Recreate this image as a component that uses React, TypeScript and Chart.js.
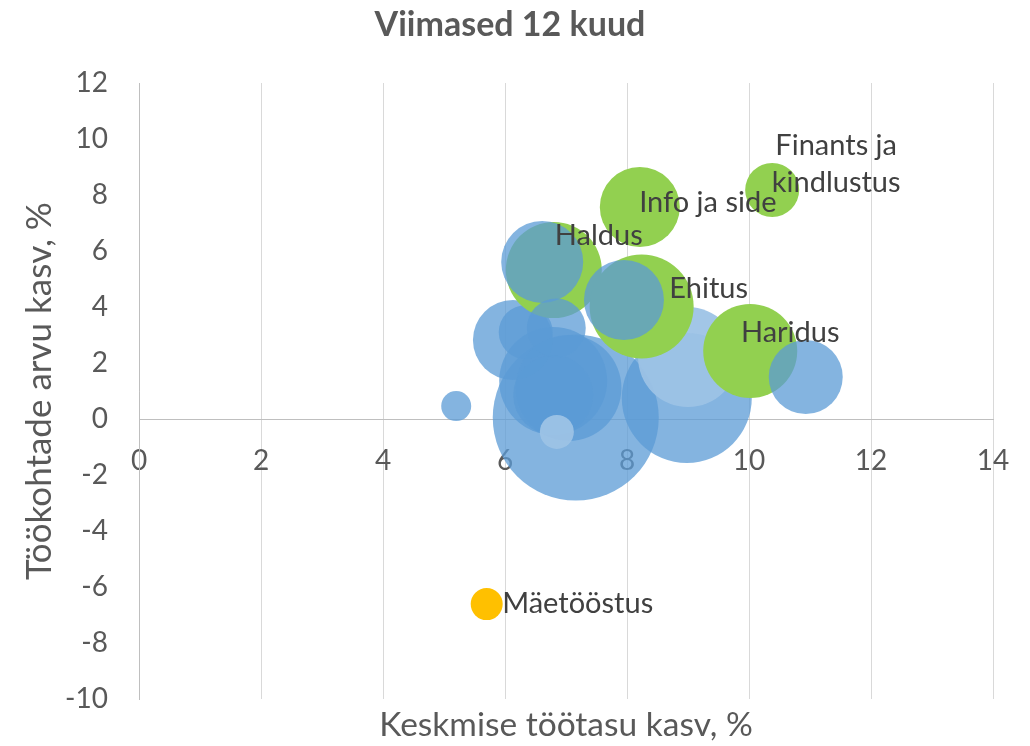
import React, { useEffect, useRef } from 'react';
import { Chart, registerables } from 'chart.js';

Chart.register(...registerables);

// ---- Data ----
const TITLE = 'Viimased 12 kuud';
const X_TITLE = 'Keskmise töötasu kasv, %';
const Y_TITLE = 'Töökohtade arvu kasv, %';
const X_MIN = 0;
const X_MAX = 14;
const X_STEP = 2;
const Y_MIN = -10;
const Y_MAX = 12;
const Y_STEP = 2;

// Labelled green sectors
const GREEN_NAMES = ['Haldus', 'Info ja side', 'Finants ja kindlustus', 'Ehitus', 'Haridus'];
const GREEN_WAGE = [6.8, 8.21, 10.38, 8.24, 10.02];
const GREEN_JOBS = [5.32, 7.57, 8.18, 4.02, 2.43];
const GREEN_SIZE = [48, 40, 27, 52, 47];

// Labelled yellow sector
const YELLOW_NAMES = ['Mäetööstus'];
const YELLOW_WAGE = [5.7];
const YELLOW_JOBS = [-6.61];
const YELLOW_SIZE = [16];

// Other sectors (blue, lower layer)
const BLUE_WAGE = [7.16, 8.98, 5.2, 6.13, 6.34, 6.79, 7.04, 6.79];
const BLUE_JOBS = [0.05, 0.75, 0.46, 2.82, 3.1, 1.36, 1.11, 0.86];
const BLUE_SIZE = [83, 65, 15, 40, 27, 54, 53, 40];

// Other sectors (light blue)
const LIGHT_WAGE = [9.0, 6.85];
const LIGHT_JOBS = [2.21, -0.46];
const LIGHT_SIZE = [50, 17];

// Other sectors (blue, upper layer)
const BLUE_TOP_WAGE = [6.61, 7.95, 10.93, 6.84];
const BLUE_TOP_JOBS = [5.61, 4.25, 1.5, 3.25];
const BLUE_TOP_SIZE = [41, 40, 37, 29.5];

// ---- Styles ----
const FONT = 'Lato';
const TEXT = '#595959';
const LABEL_TEXT = '#404040';
const BLUE = 'rgba(91,155,213,0.75)';
const LIGHT = 'rgba(157,195,230,0.95)';
const GREEN = '#92D050';
const YELLOW = '#FFC000';

// label offsets (px, relative to bubble centre): [dx of text centre, dy of first line centre]
const GREEN_LABEL_OFFSETS = [
  [45, -34],
  [68, -4],
  [64, -44],
  [67, -18],
  [40, -18],
];
const YELLOW_LABEL_OFFSETS = [[91, 0]];
const LABEL_LINE_HEIGHT = 37;

const toPoints = (xs: number[], ys: number[], rs: number[]) =>
  xs.map((x, i) => ({ x, y: ys[i], r: rs[i] }));

const splitLabel = (name: string) =>
  name === 'Finants ja kindlustus' ? ['Finants ja', 'kindlustus'] : [name];

const labelPlugin = {
  id: 'bubbleLabels',
  afterDatasetsDraw(chart: any) {
    const ctx = chart.ctx;
    ctx.save();
    ctx.font = `29px ${FONT}`;
    ctx.fillStyle = LABEL_TEXT;
    ctx.textAlign = 'center';
    ctx.textBaseline = 'middle';
    const groups = [
      { index: 2, names: GREEN_NAMES, offsets: GREEN_LABEL_OFFSETS },
      { index: 3, names: YELLOW_NAMES, offsets: YELLOW_LABEL_OFFSETS },
    ];
    groups.forEach((g) => {
      const meta = chart.getDatasetMeta(g.index);
      meta.data.forEach((el: any, i: number) => {
        const lines = splitLabel(g.names[i]);
        const [dx, dy] = g.offsets[i];
        lines.forEach((line, j) => {
          ctx.fillText(line, el.x + dx, el.y + dy + j * LABEL_LINE_HEIGHT);
        });
      });
    });
    ctx.restore();
  },
};

const titlePlugin = {
  id: 'chartTitle',
  afterDraw(chart: any) {
    const ctx = chart.ctx;
    ctx.save();
    ctx.font = `bold 34px ${FONT}`;
    ctx.fillStyle = TEXT;
    ctx.textAlign = 'center';
    ctx.textBaseline = 'middle';
    ctx.fillText(TITLE, 510, 25);
    ctx.restore();
  },
};

const zeroPadding = (s: any) => {
  s.paddingLeft = 0;
  s.paddingRight = 0;
  s.paddingTop = 0;
  s.paddingBottom = 0;
};

export default function App() {
  const ref = useRef<HTMLCanvasElement | null>(null);

  useEffect(() => {
    if (!ref.current) return;
    const chart = new Chart(ref.current, {
      type: 'bubble',
      data: {
        datasets: [
          { label: 'Muud', data: toPoints(BLUE_WAGE, BLUE_JOBS, BLUE_SIZE), backgroundColor: BLUE, borderWidth: 0, order: 5 },
          { label: 'Muud 2', data: toPoints(LIGHT_WAGE, LIGHT_JOBS, LIGHT_SIZE), backgroundColor: LIGHT, borderWidth: 0, order: 4 },
          { label: 'Kasv', data: toPoints(GREEN_WAGE, GREEN_JOBS, GREEN_SIZE), backgroundColor: GREEN, borderWidth: 0, order: 3 },
          { label: 'Langus', data: toPoints(YELLOW_WAGE, YELLOW_JOBS, YELLOW_SIZE), backgroundColor: YELLOW, borderWidth: 0, order: 2 },
          { label: 'Muud 3', data: toPoints(BLUE_TOP_WAGE, BLUE_TOP_JOBS, BLUE_TOP_SIZE), backgroundColor: BLUE, borderWidth: 0, order: 1 },
        ],
      },
      options: {
        responsive: false,
        animation: false,
        events: [],
        layout: { autoPadding: false, padding: { left: 0, right: 37, top: 83, bottom: 0 } },
        plugins: {
          legend: { display: false },
          tooltip: { enabled: false },
          title: { display: false },
        },
        scales: {
          x: {
            type: 'linear',
            position: { y: 0 } as any,
            min: X_MIN,
            max: X_MAX,
            ticks: {
              stepSize: X_STEP,
              color: TEXT,
              font: { family: FONT, size: 28 },
              padding: 0,
              maxRotation: 0,
            },
            grid: { color: '#D9D9D9', lineWidth: 1, drawTicks: true, tickLength: 25, tickColor: 'rgba(0,0,0,0)' },
            border: { color: '#BFBFBF', width: 1 },
            afterFit: (s: any) => { zeroPadding(s); },
          },
          xTitle: {
            type: 'linear',
            axis: 'x',
            position: 'bottom',
            min: X_MIN,
            max: X_MAX,
            ticks: { display: false },
            grid: { display: false, drawTicks: false },
            border: { display: false },
            title: {
              display: true,
              text: X_TITLE,
              color: TEXT,
              font: { family: FONT, size: 33.5 },
              padding: { top: 0, bottom: 1 },
            },
            afterFit: (s: any) => { zeroPadding(s); s.height = 47; },
          },
          y: {
            type: 'linear',
            position: 'left',
            min: Y_MIN,
            max: Y_MAX,
            ticks: {
              stepSize: Y_STEP,
              color: TEXT,
              font: { family: FONT, size: 28 },
              padding: 31,
            },
            grid: { display: false, drawTicks: false },
            border: { color: '#BFBFBF', width: 1 },
            title: {
              display: true,
              text: Y_TITLE,
              color: TEXT,
              font: { family: FONT, size: 35 },
              padding: { top: 19, bottom: 0 },
            },
            afterFit: (s: any) => { zeroPadding(s); s.width = 139; },
          },
        } as any,
      },
      plugins: [labelPlugin, titlePlugin],
    } as any);
    return () => chart.destroy();
  }, []);

  return (
    <div style={{ position: 'absolute', left: 0, top: 0, width: 1030, height: 746, background: '#fff' }}>
      <canvas ref={ref} width={1030} height={746} style={{ display: 'block' }} />
    </div>
  );
}
